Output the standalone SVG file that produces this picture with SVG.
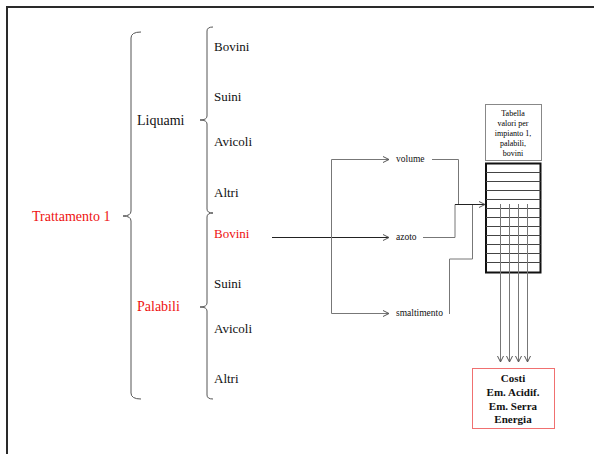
<svg xmlns="http://www.w3.org/2000/svg" width="594" height="454" viewBox="0 0 594 454">
<defs>
<marker id="arr" viewBox="0 0 8 8" refX="7" refY="4" markerWidth="8" markerHeight="8" markerUnits="userSpaceOnUse" orient="auto">
<path d="M1,1 L7,4 L1,7" fill="none" stroke="#555" stroke-width="1"/>
</marker>
</defs>
<style>
text{font-family:"Liberation Serif","Times New Roman",serif;fill:#111}
.big{font-size:14px}
.item{font-size:13px}
.red{fill:#ee1111}
.lbl{font-size:9.5px}
.hdr{font-size:8px;text-anchor:middle;fill:#000}
.out{font-size:11px;font-weight:bold;text-anchor:middle}
.brace{fill:none;stroke:#555;stroke-width:1}
.conn{fill:none;stroke:#777;stroke-width:1}
.dark{fill:none;stroke:#222;stroke-width:1}
</style>
<rect width="594" height="454" fill="#fff"/>
<path d="M7,454 V7 H594" fill="none" stroke="#2a2a2a" stroke-width="2"/>

<g id="root">
<text class="big red" x="32" y="221">Trattamento 1</text>
<path class="brace" d="M141,32 Q131,32 131,38 V211 Q131,216 123,216 Q131,216 131,221 V393 Q131,399 141,399"/>
</g>

<g id="liquami">
<text class="big" x="137" y="125">Liquami</text>
<path class="brace" d="M213,27 Q207,27 207,31 V116 Q207,120 200,120 Q207,120 207,124 V209 Q207,213 213,213"/>
<text class="item" x="214" y="51">Bovini</text>
<text class="item" x="214" y="101">Suini</text>
<text class="item" x="214" y="146">Avicoli</text>
<text class="item" x="214" y="197">Altri</text>
</g>

<g id="palabili">
<text class="big red" x="137" y="311">Palabili</text>
<path class="brace" d="M213,213 Q207,213 207,217 V303 Q207,307 200,307 Q207,307 207,311 V395 Q207,399 213,399"/>
<text class="item red" x="214" y="238">Bovini</text>
<text class="item" x="214" y="288">Suini</text>
<text class="item" x="214" y="333">Avicoli</text>
<text class="item" x="214" y="383">Altri</text>
</g>

<g id="volume"><text class="lbl" x="396" y="162">volume</text></g>
<g id="azoto"><text class="lbl" x="396" y="240">azoto</text></g>
<g id="smaltimento"><text class="lbl" x="396" y="316">smaltimento</text></g>

<g id="tabella">
<rect x="485.5" y="104.5" width="56" height="56" fill="#fff" stroke="#888" stroke-width="1"/>
<text class="hdr" x="513" y="115.5">Tabella</text>
<text class="hdr" x="513" y="125.5">valori per</text>
<text class="hdr" x="513" y="136">impianto 1,</text>
<text class="hdr" x="513" y="146">palabili,</text>
<text class="hdr" x="513" y="156">bovini</text>
<rect x="486" y="163.5" width="54.5" height="109" fill="#fff" stroke="#111" stroke-width="2"/>
<path d="M486,172.5 H540.5 M486,181.5 H540.5 M486,190.5 H540.5 M486,199.5 H540.5 M486,208.5 H540.5 M486,217.5 H540.5 M486,226.5 H540.5 M486,235.5 H540.5 M486,244.5 H540.5 M486,253.5 H540.5 M486,262.5 H540.5" stroke="#444" stroke-width="1" fill="none"/>
</g>

<g id="risultati">
<rect x="472.5" y="368.5" width="82" height="60" fill="#fff" stroke="#f07070" stroke-width="1"/>
<text class="out" x="513" y="382">Costi</text>
<text class="out" x="513" y="395.5">Em. Acidif.</text>
<text class="out" x="513" y="409.5">Em. Serra</text>
<text class="out" x="513" y="423">Energia</text>
</g>

<g id="connectors">
<path class="dark" d="M272,237.5 H389" marker-end="url(#arr)"/>
<path class="conn" d="M331.5,159.5 V313.5"/>
<path class="conn" d="M331.5,159.5 H389" marker-end="url(#arr)"/>
<path class="conn" d="M331.5,313.5 H389" marker-end="url(#arr)"/>
<path class="conn" d="M432,159.5 H458.5 V204.5"/>
<path class="conn" d="M423,237.5 H455 V204.5"/>
<path class="conn" d="M449.5,314 V259 H472.5 V204.5"/>
<path class="dark" d="M455,204.5 H485" marker-end="url(#arr)"/>
<path class="conn" d="M500.5,204 V362" marker-end="url(#arr)"/>
<path class="conn" d="M509.5,204 V362" marker-end="url(#arr)"/>
<path class="conn" d="M518.5,204 V362" marker-end="url(#arr)"/>
<path class="conn" d="M527.5,204 V362" marker-end="url(#arr)"/>
</g>
</svg>
